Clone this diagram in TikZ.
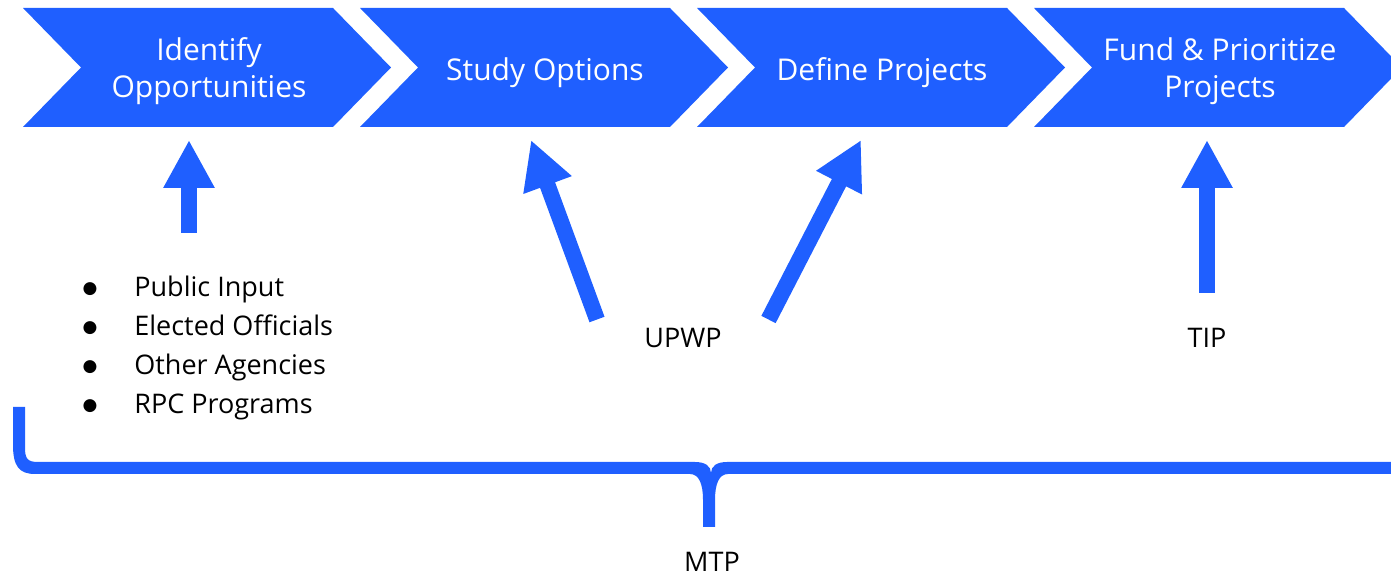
\documentclass[tikz,border=0pt]{standalone}
\usepackage{fontspec}
\setmainfont{Open Sans}
\newfontfamily\dotfont{DejaVu Sans}
\usetikzlibrary{arrows.meta}
\definecolor{mblue}{RGB}{31,95,255}
\begin{document}
\begin{tikzpicture}[x=0.5pt,y=-0.5pt,
  chevtext/.style={text=white,font=\fontsize{15}{18.5}\selectfont,align=center,inner sep=0pt,text depth=0pt},
  lbl/.style={font=\fontsize{13.5}{16}\selectfont,inner sep=0pt,text=black},
  dot/.style={font=\dotfont\fontsize{8.5}{9}\selectfont,inner sep=0pt,text=black,anchor=base},
  bigarrow/.style={draw=mblue,line width=8pt,-{Triangle[width=24pt,length=24pt]}},
]
\useasboundingbox (0,0) rectangle (1391,576);
% chevrons
\foreach \x in {23,360,697,1034}{
  \fill[mblue] (\x,8) -- ++(310,0) -- ++(58,59.5) -- ++(-58,59.5) -- ++(-310,0) -- ++(58,-59.5) -- cycle;
}
\node[chevtext] (c1) at (209,67.5) {Identify\\Opportunities};
\node[chevtext] (c2) at (545,69) {Study Options};
\node[chevtext] (c3) at (882,69) {Define Projects};
\node[chevtext] (c4) at (1220,67.5) {Fund \& Prioritize\\Projects};
% bullet list
\node[dot] (d1) at (90,294) {●};
\node[dot] (d2) at (90,333) {●};
\node[dot] (d3) at (90,372) {●};
\node[dot] (d4) at (90,411) {●};
\node[lbl,anchor=base west] (b1) at (134,297) {Public Input};
\node[lbl,anchor=base west] (b2) at (134,336) {Elected Officials};
\node[lbl,anchor=base west] (b3) at (134,375) {Other Agencies};
\node[lbl,anchor=base west] (b4) at (134,414) {RPC Programs};
% labels
\node[lbl] (upwp) at (683,338) {UPWP};
\node[lbl] (tip) at (1207,338) {TIP};
\node[lbl] (mtp) at (712,562) {MTP};
% arrows
\coordinate (t1) at (189,140); \coordinate (s1) at (189,233);
\coordinate (t2) at (531,140); \coordinate (s2) at (597,319.5);
\coordinate (t3) at (861,140); \coordinate (s3) at (768.5,319.5);
\coordinate (t4) at (1207,140); \coordinate (s4) at (1207,293);
\draw[bigarrow] (s1) -- (t1);
\draw[bigarrow] (s2) -- (t2);
\draw[bigarrow] (s3) -- (t3);
\draw[bigarrow] (s4) -- (t4);
% brace
\fill[mblue] (13,407) -- (25,407) -- (25,448) .. controls (25,459) and (28,462) .. (38,462)
  -- (695,462) .. controls (705,462) and (711,466) .. (711,473)
  .. controls (711,466) and (717,462) .. (727,462) -- (1400,462) -- (1400,474)
  -- (728,474) .. controls (719,474) and (715,484) .. (715,500) -- (715,527)
  -- (703,527) -- (703,500) .. controls (703,484) and (699,474) .. (690,474)
  -- (35,474) .. controls (19,474) and (13,466) .. (13,445) -- cycle;
\end{tikzpicture}
\end{document}
